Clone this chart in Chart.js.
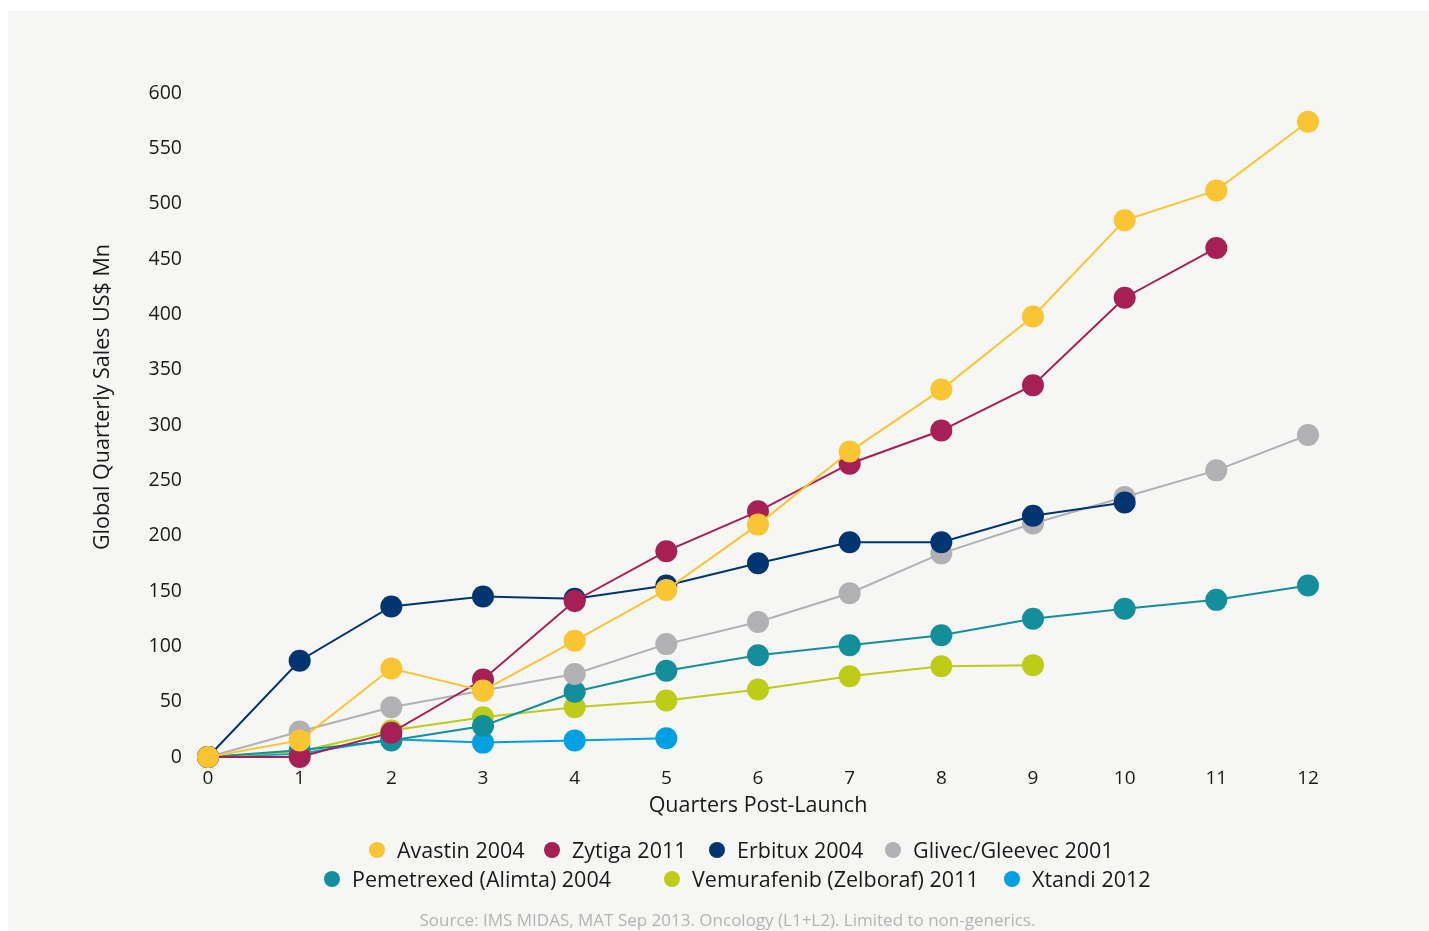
<!DOCTYPE html>
<html lang="en">
<head>
    <meta charset="UTF-8">
    <title>Global Quarterly Sales Post-Launch</title>
    <script src="https://cdn.jsdelivr.net/npm/chart.js"></script>
    <style>
        html, body {
            margin: 0;
            padding: 0;
            background: #ffffff;
            font-family: "Open Sans", sans-serif;
        }
        .panel {
            position: absolute;
            left: 8px;
            top: 11px;
            width: 1421px;
            height: 920px;
            background: #f6f6f4;
        }
        #chartBox {
            position: absolute;
            left: 0;
            top: 0;
            width: 1429px;
            height: 931px;
        }
        .legend-item {
            position: absolute;
            display: flex;
            align-items: center;
            font-size: 21.5px;
            color: #1a1a1a;
            white-space: nowrap;
        }
        .legend-dot {
            width: 16px;
            height: 16px;
            border-radius: 50%;
            margin-right: 12px;
        }
        .source {
            position: absolute;
            left: 0;
            width: 1455px;
            top: 908px;
            text-align: center;
            font-size: 17px;
            color: #b3b3b3;
        }
    </style>
</head>
<body>
    <div class="panel"></div>
    <div id="chartBox"><canvas id="salesChart" width="1429" height="931"></canvas></div>
    <div id="legend"></div>
    <div class="source">Source: IMS MIDAS, MAT Sep 2013. Oncology (L1+L2). Limited to non-generics.</div>

    <script>
        // quarters post-launch
        const quarters = [0, 1, 2, 3, 4, 5, 6, 7, 8, 9, 10, 11, 12];

        const drugNames = [
            'Avastin 2004', 'Zytiga 2011', 'Erbitux 2004', 'Glivec/Gleevec 2001',
            'Pemetrexed (Alimta) 2004', 'Vemurafenib (Zelboraf) 2011', 'Xtandi 2012'
        ];

        // global quarterly sales, US$ Mn
        const avastin     = [0, 15, 80, 60, 105, 151, 210, 276, 332, 398, 485, 512, 574];
        const zytiga      = [0, 0, 22, 70, 141, 186, 222, 265, 295, 336, 415, 460];
        const erbitux     = [0, 87, 136, 145, 143, 155, 175, 194, 194, 218, 230];
        const glivec      = [0, 23, 45, 60, 75, 102, 122, 148, 184, 211, 235, 259, 291];
        const pemetrexed  = [0, 6, 15, 28, 59, 78, 92, 101, 110, 125, 134, 142, 155];
        const vemurafenib = [0, 5, 24, 36, 45, 51, 61, 73, 82, 83];
        const xtandi      = [0, 3, 16, 13, 15, 17];

        const yTicks = [0, 50, 100, 150, 200, 250, 300, 350, 400, 450, 500, 550, 600];

        const colors = ['#f9c532', '#a61f55', '#003571', '#b1b0b3', '#138f9c', '#bdcc17', '#00a0e3'];
        const series = [avastin, zytiga, erbitux, glivec, pemetrexed, vemurafenib, xtandi];

        const datasets = series.map(function (vals, i) {
            return {
                label: drugNames[i],
                data: vals.map(function (v, q) { return { x: quarters[q], y: v }; }),
                borderColor: colors[i],
                backgroundColor: colors[i],
                pointBackgroundColor: colors[i],
                borderWidth: 2,
                pointRadius: 11,
                pointBorderWidth: 0,
                pointHoverRadius: 11,
                clip: false
            };
        });

        const ctx = document.getElementById('salesChart').getContext('2d');
        const salesChart = new Chart(ctx, {
            type: 'line',
            data: { datasets: datasets },
            options: {
                responsive: false,
                animation: false,
                layout: {
                    padding: { left: 90, top: 93, right: 121, bottom: 109 }
                },
                plugins: {
                    legend: { display: false },
                    tooltip: { enabled: false }
                },
                scales: {
                    x: {
                        type: 'linear',
                        min: 0,
                        max: 12,
                        grid: { display: false },
                        border: { display: false },
                        afterFit: function (scale) { scale.height = 65; },
                        ticks: {
                            stepSize: 1,
                            padding: 2,
                            color: '#1a1a1a',
                            font: { family: 'Open Sans', size: 19 }
                        },
                        title: {
                            display: true,
                            text: 'Quarters Post-Launch',
                            color: '#1a1a1a',
                            padding: { top: 0, bottom: 3 },
                            font: { family: 'Open Sans', size: 21.5 }
                        }
                    },
                    y: {
                        min: 0,
                        max: 600,
                        grid: { display: false },
                        border: { display: false },
                        afterFit: function (scale) { scale.width = 118; },
                        afterBuildTicks: function (scale) {
                            scale.ticks = yTicks.map(function (v) { return { value: v }; });
                        },
                        ticks: {
                            padding: 18,
                            color: '#1a1a1a',
                            font: { family: 'Open Sans', size: 19.5 }
                        },
                        title: {
                            display: true,
                            // leading spaces shift the title up a bit, as in the original
                            text: '          Global Quarterly Sales US$ Mn',
                            color: '#1a1a1a',
                            padding: { top: 0, bottom: 0 },
                            font: { family: 'Open Sans', size: 21.5 }
                        }
                    }
                }
            }
        });

        // html legend, two rows like the original
        const legendLeft = [369, 544, 709, 885, 324, 664, 1004];
        const legendTop = [835, 835, 835, 835, 864, 864, 864];
        const legend = document.getElementById('legend');
        drugNames.forEach(function (name, i) {
            const item = document.createElement('div');
            item.className = 'legend-item';
            item.style.left = legendLeft[i] + 'px';
            item.style.top = legendTop[i] + 'px';
            item.innerHTML = '<span class="legend-dot" style="background:' + colors[i] + '"></span>' + name;
            legend.appendChild(item);
        });
    </script>
</body>
</html>
